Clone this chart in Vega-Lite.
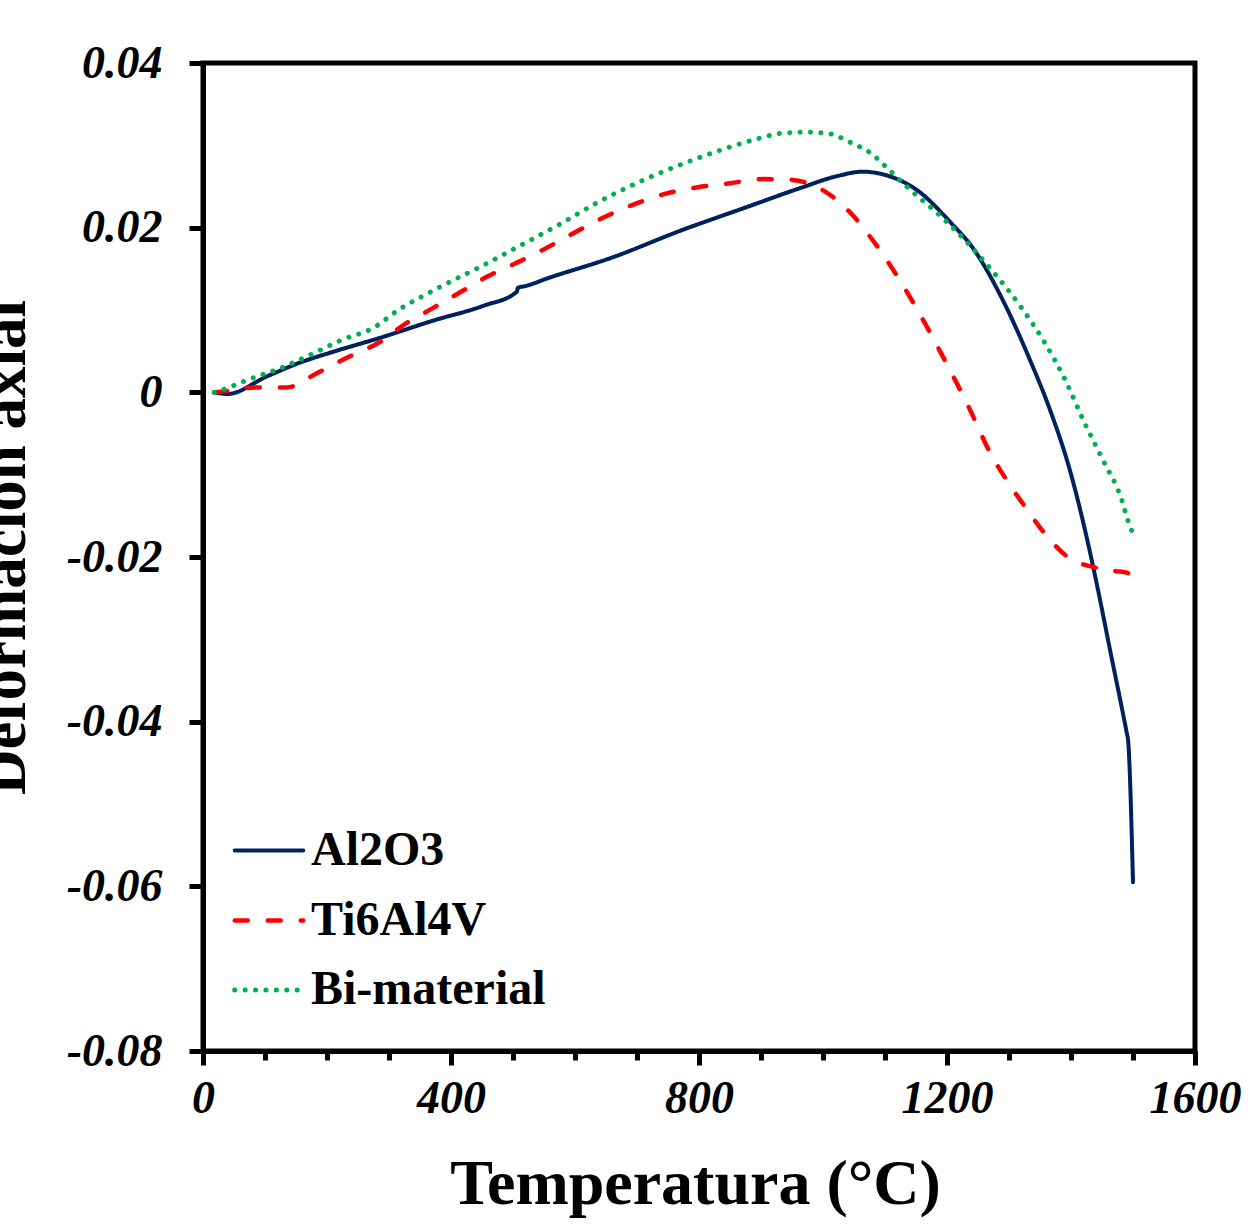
{
  "$schema": "https://vega.github.io/schema/vega-lite/v6.json",
  "width": 992,
  "height": 988,
  "autosize": {"type": "none"},
  "padding": {"left": 203, "top": 63, "right": 65, "bottom": 177},
  "background": "white",
  "config": {"view": {"stroke": "black", "strokeWidth": 5}, "font": "Liberation Serif"},
  "data": {"values": [
    {"s": "Al2O3", "T": 18, "d": 0.0},
    {"s": "Al2O3", "T": 40, "d": -0.0002},
    {"s": "Al2O3", "T": 102, "d": 0.0019},
    {"s": "Al2O3", "T": 156, "d": 0.0036},
    {"s": "Al2O3", "T": 209, "d": 0.0049},
    {"s": "Al2O3", "T": 285, "d": 0.0066},
    {"s": "Al2O3", "T": 371, "d": 0.0087},
    {"s": "Al2O3", "T": 452, "d": 0.0105},
    {"s": "Al2O3", "T": 506, "d": 0.0122},
    {"s": "Al2O3", "T": 508, "d": 0.0127},
    {"s": "Al2O3", "T": 520, "d": 0.0129},
    {"s": "Al2O3", "T": 554, "d": 0.0138},
    {"s": "Al2O3", "T": 661, "d": 0.0164},
    {"s": "Al2O3", "T": 769, "d": 0.0196},
    {"s": "Al2O3", "T": 877, "d": 0.0225},
    {"s": "Al2O3", "T": 963, "d": 0.0248},
    {"s": "Al2O3", "T": 1020, "d": 0.0262},
    {"s": "Al2O3", "T": 1064, "d": 0.0268},
    {"s": "Al2O3", "T": 1100, "d": 0.0264},
    {"s": "Al2O3", "T": 1151, "d": 0.0246},
    {"s": "Al2O3", "T": 1205, "d": 0.0207},
    {"s": "Al2O3", "T": 1242, "d": 0.0175},
    {"s": "Al2O3", "T": 1290, "d": 0.0112},
    {"s": "Al2O3", "T": 1334, "d": 0.0039},
    {"s": "Al2O3", "T": 1366, "d": -0.0021},
    {"s": "Al2O3", "T": 1398, "d": -0.0094},
    {"s": "Al2O3", "T": 1430, "d": -0.0192},
    {"s": "Al2O3", "T": 1446, "d": -0.0249},
    {"s": "Al2O3", "T": 1463, "d": -0.0313},
    {"s": "Al2O3", "T": 1490, "d": -0.0414},
    {"s": "Al2O3", "T": 1492, "d": -0.0422},
    {"s": "Al2O3", "T": 1500, "d": -0.0595},
    {"s": "Ti6Al4V", "T": 18, "d": 0.0},
    {"s": "Ti6Al4V", "T": 43, "d": 0.0002},
    {"s": "Ti6Al4V", "T": 86, "d": 0.0006},
    {"s": "Ti6Al4V", "T": 135, "d": 0.0006},
    {"s": "Ti6Al4V", "T": 183, "d": 0.0023},
    {"s": "Ti6Al4V", "T": 232, "d": 0.0042},
    {"s": "Ti6Al4V", "T": 285, "d": 0.0061},
    {"s": "Ti6Al4V", "T": 328, "d": 0.0084},
    {"s": "Ti6Al4V", "T": 370, "d": 0.0102},
    {"s": "Ti6Al4V", "T": 425, "d": 0.0126},
    {"s": "Ti6Al4V", "T": 457, "d": 0.014},
    {"s": "Ti6Al4V", "T": 505, "d": 0.0157},
    {"s": "Ti6Al4V", "T": 548, "d": 0.0173},
    {"s": "Ti6Al4V", "T": 592, "d": 0.0191},
    {"s": "Ti6Al4V", "T": 645, "d": 0.0212},
    {"s": "Ti6Al4V", "T": 694, "d": 0.0228},
    {"s": "Ti6Al4V", "T": 745, "d": 0.0241},
    {"s": "Ti6Al4V", "T": 798, "d": 0.0249},
    {"s": "Ti6Al4V", "T": 850, "d": 0.0254},
    {"s": "Ti6Al4V", "T": 903, "d": 0.0259},
    {"s": "Ti6Al4V", "T": 951, "d": 0.0258},
    {"s": "Ti6Al4V", "T": 975, "d": 0.0254},
    {"s": "Ti6Al4V", "T": 1011, "d": 0.024},
    {"s": "Ti6Al4V", "T": 1048, "d": 0.0215},
    {"s": "Ti6Al4V", "T": 1080, "d": 0.0185},
    {"s": "Ti6Al4V", "T": 1124, "d": 0.0136},
    {"s": "Ti6Al4V", "T": 1188, "d": 0.0051},
    {"s": "Ti6Al4V", "T": 1237, "d": -0.0021},
    {"s": "Ti6Al4V", "T": 1270, "d": -0.0074},
    {"s": "Ti6Al4V", "T": 1293, "d": -0.0103},
    {"s": "Ti6Al4V", "T": 1323, "d": -0.0136},
    {"s": "Ti6Al4V", "T": 1355, "d": -0.0169},
    {"s": "Ti6Al4V", "T": 1393, "d": -0.0199},
    {"s": "Ti6Al4V", "T": 1440, "d": -0.0213},
    {"s": "Ti6Al4V", "T": 1470, "d": -0.0217},
    {"s": "Ti6Al4V", "T": 1490, "d": -0.0219},
    {"s": "Ti6Al4V", "T": 1500, "d": -0.0226},
    {"s": "Bi-material", "T": 18, "d": 0.0},
    {"s": "Bi-material", "T": 27, "d": 0.0002},
    {"s": "Bi-material", "T": 75, "d": 0.0016},
    {"s": "Bi-material", "T": 127, "d": 0.003},
    {"s": "Bi-material", "T": 177, "d": 0.0047},
    {"s": "Bi-material", "T": 225, "d": 0.0064},
    {"s": "Bi-material", "T": 274, "d": 0.0078},
    {"s": "Bi-material", "T": 317, "d": 0.0101},
    {"s": "Bi-material", "T": 365, "d": 0.0121},
    {"s": "Bi-material", "T": 398, "d": 0.0134},
    {"s": "Bi-material", "T": 446, "d": 0.0152},
    {"s": "Bi-material", "T": 511, "d": 0.0178},
    {"s": "Bi-material", "T": 575, "d": 0.0204},
    {"s": "Bi-material", "T": 635, "d": 0.023},
    {"s": "Bi-material", "T": 699, "d": 0.0254},
    {"s": "Bi-material", "T": 765, "d": 0.0275},
    {"s": "Bi-material", "T": 834, "d": 0.0294},
    {"s": "Bi-material", "T": 885, "d": 0.0306},
    {"s": "Bi-material", "T": 938, "d": 0.0315},
    {"s": "Bi-material", "T": 974, "d": 0.0316},
    {"s": "Bi-material", "T": 1011, "d": 0.0314},
    {"s": "Bi-material", "T": 1043, "d": 0.0304},
    {"s": "Bi-material", "T": 1076, "d": 0.0291},
    {"s": "Bi-material", "T": 1103, "d": 0.0273},
    {"s": "Bi-material", "T": 1129, "d": 0.0254},
    {"s": "Bi-material", "T": 1156, "d": 0.0236},
    {"s": "Bi-material", "T": 1184, "d": 0.0218},
    {"s": "Bi-material", "T": 1208, "d": 0.0201},
    {"s": "Bi-material", "T": 1269, "d": 0.0151},
    {"s": "Bi-material", "T": 1318, "d": 0.0105},
    {"s": "Bi-material", "T": 1357, "d": 0.0061},
    {"s": "Bi-material", "T": 1392, "d": 0.0013},
    {"s": "Bi-material", "T": 1420, "d": -0.0034},
    {"s": "Bi-material", "T": 1452, "d": -0.0083},
    {"s": "Bi-material", "T": 1482, "d": -0.0131},
    {"s": "Bi-material", "T": 1492, "d": -0.0156},
    {"s": "Bi-material", "T": 1499, "d": -0.017}
  ]},
  "mark": {"type": "line", "strokeCap": "round", "strokeJoin": "round", "interpolate": "monotone"},
  "encoding": {
    "x": {
      "field": "T", "type": "quantitative",
      "scale": {"domain": [0, 1600], "nice": false},
      "axis": {
        "title": "Temperatura (°C)",
        "values": [0, 100, 200, 300, 400, 500, 600, 700, 800, 900, 1000, 1100, 1200, 1300, 1400, 1500, 1600],
        "format": "d",
        "labelExpr": "datum.value % 400 === 0 ? datum.label : ''",
        "tickSize": {"condition": {"test": "datum.value % 400 === 0", "value": 14}, "value": 9},
        "tickWidth": 5, "tickColor": "black",
        "domainColor": "black", "domainWidth": 5,
        "grid": false,
        "labelFont": "Liberation Serif", "labelFontWeight": "bold", "labelFontStyle": "italic",
        "labelFontSize": 46, "labelColor": "black", "labelPadding": 11,
        "labelFlush": false, "labelOverlap": false,
        "titleFont": "Liberation Serif", "titleFontSize": 64, "titleFontWeight": "bold", "titleColor": "black",
        "titleBaseline": "alphabetic", "titleY": 152, "titleX": 492, "titleAlign": "center"
      }
    },
    "y": {
      "field": "d", "type": "quantitative",
      "scale": {"domain": [-0.08, 0.04], "nice": false},
      "axis": {
        "title": "Deformación axial",
        "values": [-0.08, -0.06, -0.04, -0.02, 0, 0.02, 0.04],
        "labelExpr": "replace(format(datum.value, '.2~f'), '\u2212', '-')",
        "tickSize": 14, "tickWidth": 5, "tickColor": "black",
        "domainColor": "black", "domainWidth": 5,
        "grid": false,
        "labelFont": "Liberation Serif", "labelFontWeight": "bold", "labelFontStyle": "italic",
        "labelFontSize": 46, "labelColor": "black", "labelPadding": 27,
        "labelOverlap": false, "labelFlush": false,
        "titleFont": "Liberation Serif", "titleFontSize": 63, "titleFontWeight": "bold", "titleColor": "black",
        "titleAngle": 270, "titleBaseline": "alphabetic", "titleAlign": "center",
        "titleX": -179, "titleY": 484
      }
    },
    "color": {
      "field": "s", "type": "nominal",
      "scale": {"domain": ["Al2O3", "Ti6Al4V", "Bi-material"], "range": ["#002060", "#FF0000", "#00B050"]},
      "legend": {
        "orient": "none", "legendX": 29, "legendY": 751, "title": null,
        "symbolType": "stroke", "symbolSize": 4700, "symbolStrokeWidth": 4.5,
        "labelFont": "Liberation Serif", "labelFontSize": 48, "labelFontWeight": "bold", "labelColor": "black",
        "labelOffset": 5, "rowPadding": 8.5, "padding": 0, "labelLimit": 500,
        "encode": {"symbols": {"update": {"strokeCap": {"value": "round"}}}}
      }
    },
    "strokeDash": {
      "field": "s", "type": "nominal",
      "scale": {"domain": ["Al2O3", "Ti6Al4V", "Bi-material"], "range": [[1, 0], [13, 20], [0.1, 10.3]]},
      "legend": {
        "orient": "none", "legendX": 29, "legendY": 751, "title": null,
        "symbolType": "stroke", "symbolSize": 4700, "symbolStrokeWidth": 4.5,
        "labelFont": "Liberation Serif", "labelFontSize": 48, "labelFontWeight": "bold", "labelColor": "black",
        "labelOffset": 5, "rowPadding": 8.5, "padding": 0, "labelLimit": 500,
        "encode": {"symbols": {"update": {"strokeCap": {"value": "round"}}}}
      }
    },
    "strokeWidth": {
      "field": "s", "type": "nominal",
      "scale": {"domain": ["Al2O3", "Ti6Al4V", "Bi-material"], "range": [4, 5, 5]},
      "legend": null
    }
  }
}
